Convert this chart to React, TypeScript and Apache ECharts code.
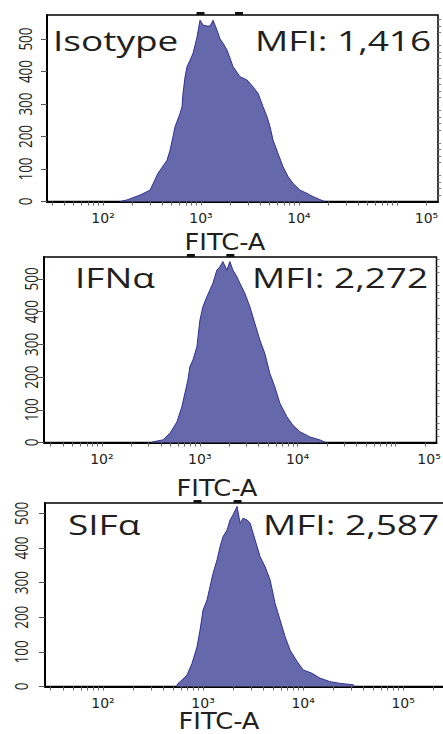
import React, { useEffect, useRef } from "react";
import * as echarts from "echarts";

// ---------- data ----------
const panelTitles = ["Isotype", "IFNα", "SIFα"];
const mfiTexts = ["MFI: 1,416", "MFI: 2,272", "MFI: 2,587"];
const xAxisTitle = "FITC-A";

const isotypeFitc = [150, 176, 239, 302, 364, 450, 483, 518, 543, 611, 640, 655, 687, 720, 773, 829, 911, 977, 1048, 1151, 1236, 1327, 1457, 1564, 1679, 1843, 1978, 2124, 2500, 2946, 3394, 3818, 4293, 4714, 5062, 5433, 6110, 6868, 7723, 8682, 10233, 12080, 13900, 17180, 18500];
const isotypeCount = [0, 5, 20, 35, 87, 127, 158, 200, 230, 271, 292, 333, 383, 415, 435, 456, 506, 558, 543, 540, 540, 558, 527, 500, 487, 466, 441, 415, 384, 374, 353, 333, 292, 261, 230, 189, 148, 107, 77, 56, 35, 25, 15, 3, 0];

const ifnFitc = [320, 332, 420, 495, 584, 657, 705, 756, 793, 851, 935, 1003, 1076, 1182, 1268, 1361, 1495, 1604, 1722, 1892, 2029, 2178, 2393, 2568, 2888, 3249, 3654, 4110, 4622, 5198, 5847, 6576, 7756, 8929, 10530, 13330, 16860, 18960, 19500];
const ifnCount = [0, 2, 8, 28, 63, 110, 151, 191, 232, 252, 293, 374, 415, 446, 466, 487, 527, 537, 553, 527, 553, 527, 507, 487, 456, 415, 364, 313, 272, 211, 170, 120, 79, 53, 33, 17, 8, 1, 0];

const sifFitc = [540, 562, 617, 692, 776, 871, 933, 1000, 1096, 1175, 1259, 1380, 1479, 1585, 1738, 1862, 1995, 2188, 2344, 2512, 2754, 2951, 3162, 3467, 3715, 4169, 4677, 5248, 5888, 6607, 7413, 8710, 10000, 12300, 14790, 18620, 23440, 31620, 33000];
const sifCount = [0, 9, 19, 33, 67, 115, 163, 221, 250, 289, 327, 366, 404, 433, 452, 481, 496, 520, 472, 486, 481, 472, 443, 404, 375, 346, 308, 240, 192, 144, 105, 72, 48, 38, 24, 14, 9, 5, 0];

const yLabelValues = [0, 100, 200, 300, 400, 500];
const yMinorValues = [20, 40, 60, 80, 120, 140, 160, 180, 220, 240, 260, 280, 320, 340, 360, 380, 420, 440, 460, 480, 520, 540, 560];
const xTickValues = [30, 40, 50, 60, 70, 80, 90, 100, 200, 300, 400, 500, 600, 700, 800, 900, 1000, 2000, 3000, 4000, 5000, 6000, 7000, 8000, 9000, 10000, 20000, 30000, 40000, 50000, 60000, 70000, 80000, 90000, 100000, 200000];
const xLabelText = ["10²", "10³", "10⁴", "10⁵"];
// where the source figure prints each decade label
const xLabelValuesByPanel = [
  [100, 1000, 10000, 200000],
  [100, 1000, 10000, 220000],
  [100, 1000, 10000, 100000],
];
const countMax = [574, 567, 530];
const fitcMin = [26.8, 25.6, 26.3];
const fitcMax = 262144;
const gateMarks = [
  [988, 2443],
  [811, 2051],
  [881, 2213],
];

const panelFitc = [isotypeFitc, ifnFitc, sifFitc];
const panelCount = [isotypeCount, ifnCount, sifCount];

// ---------- layout ----------
const grids = [
  { left: 47, top: 15, width: 391, height: 186.5 },
  { left: 44, top: 257, width: 392.5, height: 185.5 },
  { left: 45, top: 503, width: 400, height: 183.5 },
];
const titlePos = [
  { name: [53, 40.5], mfi: [255, 40.5], axis: [225, 242] },
  { name: [75, 277.5], mfi: [252, 277.5], axis: [217, 488] },
  { name: [68, 524], mfi: [263, 524], axis: [219, 721] },
];
// horizontal distance from the y axis line to the centre of its rotated labels
const yLabelOffset = [22, 13, 24];

const FILL = "#6668ac";
const EDGE = "#2e3192";
const TXT = "#231f20";

export default function App() {
  const ref = useRef<HTMLDivElement>(null);

  useEffect(() => {
    if (!ref.current) return;
    const chart = echarts.init(ref.current, undefined, { renderer: "svg" });

    const xAxes: any[] = [];
    const yAxes: any[] = [];
    const series: any[] = [];
    const graphics: any[] = [];

    for (let i = 0; i < 3; i++) {
      const labelVals = xLabelValuesByPanel[i];
      xAxes.push({
        type: "log",
        logBase: 10,
        gridIndex: i,
        min: fitcMin[i],
        max: fitcMax,
        axisLine: { show: true, onZero: false, lineStyle: { color: "#000", width: 2 } },
        axisTick: { show: true, customValues: xTickValues, length: 4, lineStyle: { color: "#666", width: 1 } },
        axisLabel: {
          show: true,
          customValues: labelVals,
          margin: 9,
          fontSize: 14,
          fontFamily: "DejaVu Sans",
          color: TXT,
          formatter: (v: number) => {
            let best = 0;
            let bd = Infinity;
            labelVals.forEach((lv, k) => {
              const d = Math.abs(Math.log10(lv) - Math.log10(v));
              if (d < bd) { bd = d; best = k; }
            });
            return xLabelText[best];
          },
        },
        splitLine: { show: false },
        minorTick: { show: false },
      });
      yAxes.push({
        type: "value",
        gridIndex: i,
        min: 0,
        max: countMax[i],
        interval: 100,
        axisLine: { show: true, onZero: false, lineStyle: { color: "#000", width: 2 } },
        axisTick: { show: true, customValues: yLabelValues, length: 6, lineStyle: { color: "#555", width: 1 } },
        axisLabel: { show: false },
        splitLine: { show: false },
      });
      yAxes.push({
        type: "value",
        gridIndex: i,
        min: 0,
        max: countMax[i],
        interval: 100,
        axisLine: { show: false },
        axisTick: { show: true, customValues: yMinorValues, length: 3, lineStyle: { color: "#777", width: 1 } },
        axisLabel: { show: false },
        splitLine: { show: false },
      });

      series.push({
        type: "line",
        xAxisIndex: i,
        yAxisIndex: 2 * i,
        data: panelFitc[i].map((v, k) => [v, panelCount[i][k]]),
        showSymbol: false,
        symbol: "none",
        lineStyle: { color: EDGE, width: 1 },
        areaStyle: { color: FILL, opacity: 1 },
        silent: true,
        z: 2,
      });
      const ymax = countMax[i];
      series.push({
        type: "custom",
        xAxisIndex: i,
        yAxisIndex: 2 * i,
        clip: false,
        data: gateMarks[i].map((v) => [v, ymax]),
        renderItem: (_p: any, api: any) => {
          const pt = api.coord([api.value(0), api.value(1)]);
          return {
            type: "rect",
            shape: { x: pt[0] - 4, y: pt[1] - 3, width: 8, height: 3 },
            style: { fill: "#111" },
          };
        },
        z: 5,
      });

      const tp = titlePos[i];
      graphics.push({
        type: "text",
        x: tp.name[0],
        y: tp.name[1],
        scaleX: 1.37,
        style: { text: panelTitles[i], font: "27px 'Open Sans'", fill: TXT, align: "left", verticalAlign: "middle" },
        z: 10,
      });
      graphics.push({
        type: "text",
        x: tp.mfi[0],
        y: tp.mfi[1],
        scaleX: 1.37,
        style: { text: mfiTexts[i], font: "27px 'Open Sans'", fill: TXT, align: "left", verticalAlign: "middle" },
        z: 10,
      });
      graphics.push({
        type: "text",
        x: tp.axis[0],
        y: tp.axis[1],
        scaleX: 1.12,
        style: { text: xAxisTitle, font: "23px 'DejaVu Sans'", fill: TXT, align: "center", verticalAlign: "middle" },
        z: 1,
      });
    }

    chart.setOption({
      animation: false,
      backgroundColor: "#fff",
      grid: grids.map((g) => ({
        ...g,
        show: true,
        borderColor: "#000",
        borderWidth: 1.5,
        backgroundColor: "transparent",
        containLabel: false,
        outerBoundsMode: "none",
      })),
      xAxis: xAxes,
      yAxis: yAxes,
      series,
    });

    // rotated count labels, placed through the y scales
    for (let i = 0; i < 3; i++) {
      const axisX = chart.convertToPixel({ xAxisIndex: i }, fitcMin[i]) as number;
      yLabelValues.forEach((v) => {
        const py = chart.convertToPixel({ yAxisIndex: 2 * i }, v) as number;
        graphics.push({
          type: "text",
          x: axisX - yLabelOffset[i],
          y: py,
          rotation: Math.PI / 2,
          scaleY: 1.35,
          style: { text: String(v), font: "13.5px 'Open Sans'", fill: TXT, align: "center", verticalAlign: "middle" },
          z: 10,
        });
      });
    }
    chart.setOption({ graphic: graphics });

    return () => chart.dispose();
  }, []);

  return (
    <div
      ref={ref}
      style={{ position: "fixed", left: 0, top: 0, width: 443, height: 734, background: "#fff" }}
    />
  );
}
